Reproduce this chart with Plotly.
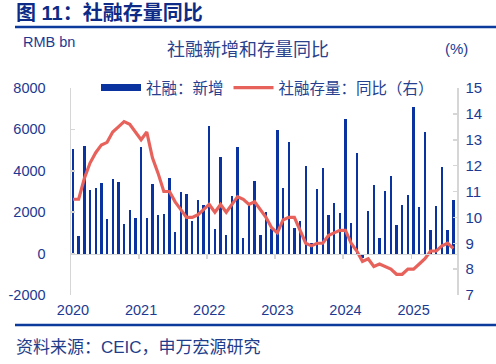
import plotly.graph_objects as go

W, H = 496, 364
L, R, T, B = 71, 39, 88, 69
PW = W - L - R
PH = H - T - B


def px(x):
    return (x - L) / PW


def py(y):
    return (H - B - y) / PH


months = list(range(68))
tsf_new = [
    5070, 855, 5180, 3090, 3190, 3430, 1690, 3580, 3480, 1420, 2130, 1720,
    5170, 1710, 3340, 1850, 1920, 3670, 1060, 2960, 2900, 1590, 2570, 2370,
    6170, 1190, 4650, 910, 2790, 5170, 760, 2430, 3530, 910, 1990, 1200,
    5980, 3160, 5380, 1220, 1560, 4220, 530, 3120, 4130, 1850, 2450, 1940,
    6500, 1500, 4870, -200, 2060, 3300, 770, 3030, 3760, 1400, 2340, 2850,
    7060, 2230, 5890, 1160, 2290, 4200, 1130, 2570,
]
tsf_yoy = [
    10.7, 10.7, 11.5, 12.1, 12.5, 12.8, 12.9, 13.3, 13.5, 13.7, 13.6, 13.3,
    13.0, 13.3, 12.3, 11.7, 11.0, 11.0, 10.6, 10.3, 10.0, 10.0, 10.1, 10.3,
    10.5, 10.2, 10.5, 10.2, 10.5, 10.8, 10.7, 10.5, 10.6, 10.3, 10.0, 9.6,
    9.4, 9.9, 10.0, 10.0, 9.5, 9.0, 8.9, 9.0, 9.0, 9.3, 9.4, 9.5,
    9.5, 9.0, 8.7, 8.3, 8.4, 8.1, 8.2, 8.1, 8.0, 7.8, 7.8, 8.0,
    8.0, 8.2, 8.4, 8.7, 8.7, 8.9, 9.0, 8.8,
]
year_pos = [0, 12, 24, 36, 48, 60]
year_labels = ["2020", "2021", "2022", "2023", "2024", "2025"]
left_ticks = [-2000, 0, 2000, 4000, 6000, 8000]
left_labels = ["-2000", "0", "2000", "4000", "6000", "8000"]
right_ticks = [7, 8, 9, 10, 11, 12, 13, 14, 15]

BLUE = "#0a33a0"
RED = "#e8625c"
GRAY = "#d6d6d6"
TXT = "#1c3a92"
FONT = "Liberation Sans, Arial, Noto Sans CJK SC, sans-serif"
XR = [-0.35, 67.65]

fig = go.Figure()
fig.add_bar(x=months, y=tsf_new, width=0.42, marker=dict(color=BLUE, line_width=0),
            showlegend=False, name="社融：新增")
fig.add_scatter(x=[None], y=[None], mode="lines", line=dict(color=BLUE, width=7),
                name="社融：新增")
fig.add_scatter(x=months, y=tsf_yoy, mode="lines", line=dict(color=RED, width=3.2),
                name="社融存量：同比（右）", yaxis="y2")
fig.add_scatter(x=[months[0], months[-1]], y=[0, 0], xaxis="x2", mode="lines",
                opacity=0, showlegend=False, hoverinfo="skip")

fig.update_layout(
    width=W, height=H,
    margin=dict(l=L, r=R, t=T, b=B, pad=0, autoexpand=False),
    paper_bgcolor="white", plot_bgcolor="white",
    font=dict(family=FONT, color=TXT, size=14),
    showlegend=True,
    legend=dict(orientation="h", x=px(96), y=py(88), xanchor="left", yanchor="middle",
                font=dict(size=15.5, color="#24408f"), bgcolor="rgba(0,0,0,0)",
                itemclick=False, itemwidth=40),
    xaxis=dict(range=XR, tickvals=year_pos, ticktext=year_labels, ticks="",
               showline=False, showgrid=False, zeroline=False, automargin=False,
               tickfont=dict(size=14.5, color=TXT), ticklabelstandoff=4),
    xaxis2=dict(range=XR, overlaying="x", anchor="free", position=py(253.6),
                tickvals=[p - 0.4 for p in year_pos], ticks="outside", ticklen=4,
                tickcolor=GRAY, tickwidth=1.5, showline=True, linecolor=GRAY,
                linewidth=1.5, showticklabels=False, showgrid=False, zeroline=False,
                automargin=False),
    yaxis=dict(range=[-2000, 8000], tickvals=left_ticks, ticktext=left_labels,
               ticks="inside", ticklen=4,
               tickcolor=GRAY, tickwidth=1.5, showline=True, linecolor=GRAY, linewidth=1.5,
               showgrid=False, zeroline=False, tickfont=dict(size=14.5, color=TXT),
               ticklabelstandoff=21, automargin=False),
    yaxis2=dict(range=[7, 15], tickvals=right_ticks, overlaying="y", side="right",
                ticks="inside", ticklen=4, tickcolor=GRAY, tickwidth=1.5, showline=True,
                linecolor=GRAY, linewidth=1.5, showgrid=False, zeroline=False,
                tickfont=dict(size=15, color=TXT), ticklabelstandoff=4, automargin=False),
    bargap=0,
)

shapes = [
    dict(type="line", xref="paper", yref="paper", x0=px(15), x1=px(496),
         y0=py(27), y1=py(27), line=dict(color="#0b3a9c", width=2.5)),
    dict(type="line", xref="paper", yref="paper", x0=px(15), x1=px(496),
         y0=py(325), y1=py(325), line=dict(color="#0b3a9c", width=2.5)),
]
fig.update_layout(shapes=shapes)

ann = [
    dict(text="<b>图 11：社融存量同比</b>", x=px(14), y=py(13), xanchor="left",
         yanchor="middle", font=dict(size=20, color="#0d2b86")),
    dict(text="社融新增和存量同比", x=px(248), y=py(50), xanchor="center",
         yanchor="middle", font=dict(size=18, color="#2a418c")),
    dict(text="RMB bn", x=px(21), y=py(42), xanchor="left", yanchor="middle",
         font=dict(size=14.5, color=TXT)),
    dict(text="(%)", x=px(443), y=py(48), xanchor="left", yanchor="middle",
         font=dict(size=15, color=TXT)),
    dict(text="资料来源：CEIC，申万宏源研究", x=px(14), y=py(347), xanchor="left",
         yanchor="middle", font=dict(size=17, color="#1f3d8a")),
]
for a in ann:
    a.update(xref="paper", yref="paper", showarrow=False)
fig.update_layout(annotations=ann)

fig.write_html(
    "out.html",
    config={"displayModeBar": False, "staticPlot": True},
    post_script="document.body.style.margin='0';document.body.style.overflow='hidden';",
)
